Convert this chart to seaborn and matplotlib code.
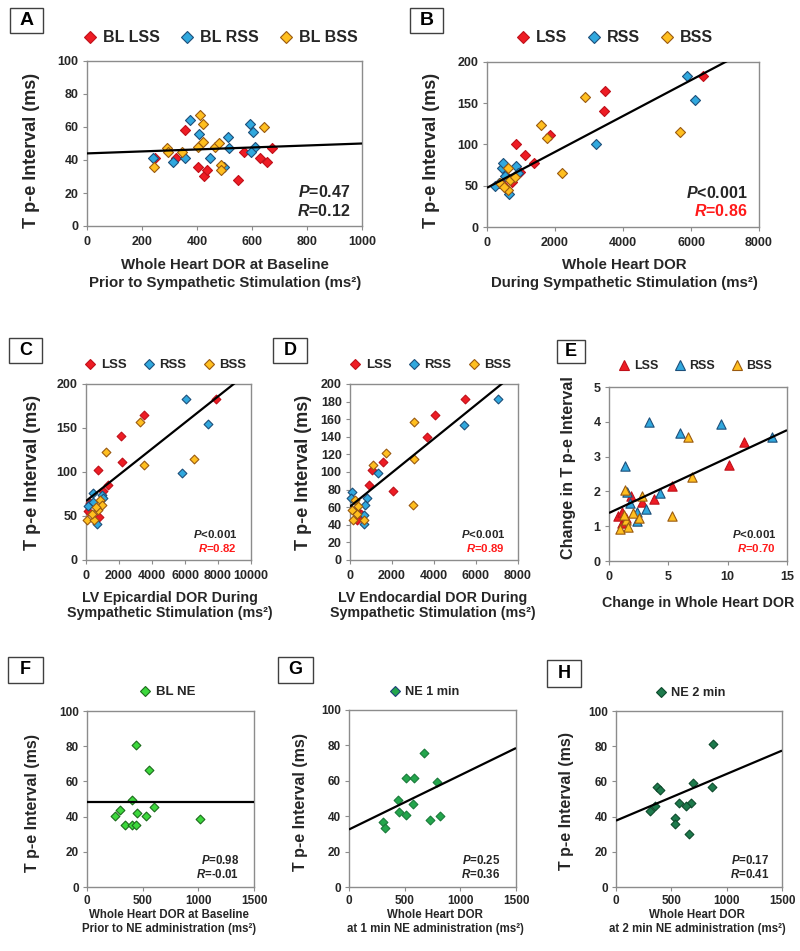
import numpy as np
import pandas as pd
import matplotlib
matplotlib.use("Agg")
import matplotlib.pyplot as plt
import seaborn as sns
from matplotlib.lines import Line2D
from matplotlib.patches import Rectangle

# ---------------- data ----------------
# Panel A: baseline
A_LSS_x = [246, 325, 358, 404, 424, 436, 549, 570, 630, 655, 673]
A_LSS_y = [41, 41, 58, 36, 30, 34, 28, 45, 41, 39, 47]
A_RSS_x = [239, 314, 358, 376, 406, 448, 497, 513, 518, 594, 602, 610, 598]
A_RSS_y = [41, 39, 41, 64, 56, 41, 36, 54, 47, 62, 57, 48, 45]
A_BSS_x = [242, 291, 294, 345, 404, 412, 421, 421, 467, 479, 488, 488, 642]
A_BSS_y = [36, 47, 45, 45, 48, 67, 62, 51, 48, 50, 37, 34, 60]
A_trend_x = [0, 1000]
A_trend_y = [44, 50]

# Panel B: whole heart DOR during stimulation
B_LSS_x = [6357, 3472, 3443, 1858, 851, 1125, 1389, 958, 733, 600, 450]
B_LSS_y = [183, 165, 141, 112, 101, 87, 78, 67, 55, 60, 52]
B_RSS_x = [5888, 6113, 3208, 342, 440, 470, 636, 860, 900, 245, 520]
B_RSS_y = [183, 154, 100, 53, 71, 78, 40, 74, 65, 50, 62]
B_BSS_x = [2885, 1584, 1760, 5672, 2200, 606, 391, 606, 685, 831, 500]
B_BSS_y = [158, 124, 108, 115, 65, 72, 53, 45, 57, 61, 48]
B_trend_x = [0, 7240]
B_trend_y = [47.5, 205]

# Panel C: LV epicardial DOR
C_LSS_x = [7900, 3532, 2111, 2172, 710, 1360, 1055, 790, 245, 150]
C_LSS_y = [183, 165, 141, 111, 102, 85, 78, 49, 65, 56]
C_RSS_x = [6049, 7389, 5826, 446, 406, 995, 650, 142, 1050]
C_RSS_y = [183, 154, 99, 66, 76, 74, 41, 61, 70]
C_BSS_x = [3289, 3492, 6537, 1218, 40, 508, 345, 853, 751, 954, 600]
C_BSS_y = [157, 108, 115, 123, 46, 46, 52, 68, 57, 63, 60]
C_trend_x = [0, 9220]
C_trend_y = [67, 204]

# Panel D: LV endocardial DOR
D_LSS_x = [5465, 4070, 3643, 1552, 1030, 903, 2059, 285, 348, 500]
D_LSS_y = [183, 165, 140, 111, 102, 85, 78, 57, 46, 52]
D_RSS_x = [7049, 5433, 1346, 79, 30, 824, 713, 681, 665, 260]
D_RSS_y = [183, 153, 99, 77, 70, 70, 63, 51, 41, 55]
D_BSS_x = [3041, 1695, 1109, 3041, 2978, 79, 158, 317, 396, 238, 665]
D_BSS_y = [157, 122, 108, 115, 63, 57, 46, 52, 61, 68, 46]
D_trend_x = [0, 7480]
D_trend_y = [60.7, 205]

# Panel E: change in whole heart DOR vs change in Tp-e
E_LSS_x = [11.4, 10.1, 5.28, 3.76, 2.82, 1.84, 1.07, 0.8, 1.13, 1.4]
E_LSS_y = [3.42, 2.77, 2.15, 1.77, 1.70, 1.86, 1.08, 1.3, 1.41, 1.25]
E_RSS_x = [3.33, 6.02, 9.46, 13.7, 1.36, 4.32, 3.16, 2.34, 2.4, 1.75, 1.55]
E_RSS_y = [3.98, 3.68, 3.95, 3.55, 2.72, 1.95, 1.49, 1.41, 1.15, 1.67, 1.99]
E_BSS_x = [6.64, 6.98, 5.28, 1.36, 2.82, 2.06, 2.54, 1.47, 1.64, 0.9, 1.27]
E_BSS_y = [3.57, 2.42, 1.29, 2.05, 1.88, 1.39, 1.24, 1.19, 0.98, 0.91, 1.32]
E_trend_x = [0, 15]
E_trend_y = [1.38, 3.76]

# Panels F-H: norepinephrine
F_x = [249, 300, 339, 405, 444, 450, 528, 600, 1013, 438, 555, 408]
F_y = [40.4, 43.8, 35.1, 35.1, 35.1, 42.3, 40.4, 45.5, 38.5, 80.4, 66.4, 49.4]
F_trend_x = [0, 1500]
F_trend_y = [48.3, 48.3]
G_x = [672, 512, 587, 789, 443, 572, 452, 512, 732, 819, 307, 325]
G_y = [75.5, 61.7, 61.7, 59.6, 49.4, 47, 42.5, 40.6, 38.1, 40, 36.8, 33.6]
G_trend_x = [0, 1500]
G_trend_y = [32.5, 78.5]
H_x = [880, 871, 695, 370, 395, 355, 310, 568, 674, 632, 531, 531, 659]
H_y = [81, 57, 59, 57, 55, 46, 43, 48, 48, 46, 39, 36, 30]
H_trend_x = [0, 1500]
H_trend_y = [37.7, 77.5]

# ---------------- style ----------------
sns.set_style("white")
plt.rcParams["font.family"] = ["Liberation Sans", "DejaVu Sans"]
plt.rcParams["font.weight"] = "bold"
plt.rcParams["mathtext.fontset"] = "custom"
plt.rcParams["mathtext.it"] = "Liberation Sans:italic:bold"
plt.rcParams["mathtext.rm"] = "Liberation Sans:bold"
plt.rcParams["mathtext.bf"] = "Liberation Sans:bold"

RED_F, RED_E = "#ee1c24", "#c0101a"
BLU_F, BLU_E = "#30a8de", "#1d4f7a"
ORA_F, ORA_E = "#ffbf1f", "#9a5a10"
GF_F, GF_E = "#3cd83c", "#1c6b1c"
GG_F, GG_E = "#23a64c", "#1a7a3a"
GH_F, GH_E = "#1d7a4c", "#0e4a2c"
TXT = "#262626"

W, H = 800, 951
fig = plt.figure(figsize=(8, 9.51), dpi=100)
fig.patch.set_facecolor("white")


def fx(px):
    return px / W


def fy(py):
    return 1 - py / H


def make_ax(l, r, t, b):
    return fig.add_axes([fx(l), fy(b), (r - l) / W, (b - t) / H])


def style_ax(ax, xlim, xticks, ylim, yticks, fs=9, xpad=4.5):
    ax.set_xlim(*xlim)
    ax.set_ylim(*ylim)
    ax.set_xticks(xticks)
    ax.set_yticks(yticks)
    for s in ax.spines.values():
        s.set_visible(True)
        s.set_color("#8c8c8c")
        s.set_linewidth(1.0)
    ax.tick_params(bottom=True, left=True, direction="out", length=3, width=0.8,
                   color="#8c8c8c", labelsize=fs, labelcolor=TXT)
    ax.tick_params(axis="x", pad=xpad)
    ax.tick_params(axis="y", pad=3)
    for lab in ax.get_xticklabels() + ax.get_yticklabels():
        lab.set_fontweight("bold")
    ax.set_xlabel("")
    ax.set_ylabel("")
    ax.grid(False)


def scatter_groups(ax, groups, marker, s):
    for name, xs, ys, face, edge in groups:
        df = pd.DataFrame({"x": xs, "y": ys})
        sns.scatterplot(data=df, x="x", y="y", ax=ax, marker=marker, s=s,
                        color=face, edgecolor=edge, linewidth=0.8,
                        clip_on=False, zorder=3, legend=False)


def trend(ax, xs, ys):
    ax.plot(xs, ys, color="black", lw=1.6, zorder=4, solid_capstyle="butt")


def legend(ax, groups, marker, ms, cx, cy, fs, colsp=1.2):
    handles = [Line2D([], [], ls="", marker=marker, ms=ms, mfc=f, mec=e, mew=0.8)
               for _, _, _, f, e in groups]
    names = [g[0] for g in groups]
    leg = ax.legend(handles, names, loc="center", bbox_to_anchor=(fx(cx), fy(cy)),
                    bbox_transform=fig.transFigure, ncol=len(groups), frameon=False,
                    fontsize=fs, handletextpad=0.3, columnspacing=colsp,
                    handlelength=1.0, borderpad=0, borderaxespad=0)
    for t in leg.get_texts():
        t.set_fontweight("bold")
        t.set_color(TXT)


def letter(l, t, r, b, s, fs=14):
    fig.add_artist(Rectangle((fx(l), fy(b)), (r - l) / W, (b - t) / H,
                             transform=fig.transFigure, fill=False,
                             ec="#404040", lw=1.0))
    fig.text(fx((l + r) / 2), fy((t + b) / 2), s, ha="center", va="center",
             fontsize=fs, fontweight="bold", color="black")


def ylab(x, y, s, fs):
    fig.text(fx(x), fy(y), s, rotation=90, ha="center", va="center",
             fontsize=fs, fontweight="bold", color=TXT)


def xlab(x, y, s, fs):
    fig.text(fx(x), fy(y), s, ha="center", va="center", fontsize=fs,
             fontweight="bold", color=TXT)


def stats(x, y1, y2, p, r, fs, rcol=TXT):
    fig.text(fx(x), fy(y1), p, ha="right", va="center", fontsize=fs,
             fontweight="bold", color=TXT)
    fig.text(fx(x), fy(y2), r, ha="right", va="center", fontsize=fs,
             fontweight="bold", color=rcol)


# ---------------- Panel A ----------------
axA = make_ax(87, 362, 61, 226)
gA = [("BL LSS", A_LSS_x, A_LSS_y, RED_F, RED_E),
      ("BL RSS", A_RSS_x, A_RSS_y, BLU_F, BLU_E),
      ("BL BSS", A_BSS_x, A_BSS_y, ORA_F, ORA_E)]
scatter_groups(axA, gA, "D", 26)
trend(axA, A_trend_x, A_trend_y)
style_ax(axA, (0, 1000), range(0, 1001, 200), (0, 100), range(0, 101, 20))
legend(axA, gA, "D", 6.0, 220, 38, 11.5)
letter(10, 8, 43, 33, "A")
ylab(32, 150, "T p-e Interval (ms)", 13)
xlab(225, 265, "Whole Heart DOR at Baseline", 10.8)
xlab(225, 283, "Prior to Sympathetic Stimulation (ms²)", 10.8)
stats(350, 192, 211, r"$P$=0.47", r"$R$=0.12", 11.5)

# ---------------- Panel B ----------------
axB = make_ax(487, 759, 62, 227)
gB = [("LSS", B_LSS_x, B_LSS_y, RED_F, RED_E),
      ("RSS", B_RSS_x, B_RSS_y, BLU_F, BLU_E),
      ("BSS", B_BSS_x, B_BSS_y, ORA_F, ORA_E)]
scatter_groups(axB, gB, "D", 26)
trend(axB, B_trend_x, B_trend_y)
style_ax(axB, (0, 8000), range(0, 8001, 2000), (0, 200), range(0, 201, 50))
legend(axB, gB, "D", 6.0, 614, 38, 11.5)
letter(410, 8, 443, 33, "B")
ylab(432, 150, "T p-e Interval (ms)", 13)
xlab(624, 265, "Whole Heart DOR", 10.8)
xlab(624, 283, "During Sympathetic Stimulation (ms²)", 10.8)
stats(748, 193, 211, r"$P$<0.001", r"$R$=0.86", 11.5, rcol="#ff1a1a")

# ---------------- Panel C ----------------
axC = make_ax(86, 251, 384, 560)
gC = [("LSS", C_LSS_x, C_LSS_y, RED_F, RED_E),
      ("RSS", C_RSS_x, C_RSS_y, BLU_F, BLU_E),
      ("BSS", C_BSS_x, C_BSS_y, ORA_F, ORA_E)]
scatter_groups(axC, gC, "D", 20)
trend(axC, C_trend_x, C_trend_y)
style_ax(axC, (0, 10000), range(0, 10001, 2000), (0, 200), range(0, 201, 50))
legend(axC, gC, "D", 5.2, 165, 365, 9.5)
letter(9, 338, 42, 363, "C", 13)
ylab(33, 472, "T p-e Interval (ms)", 13)
xlab(170, 598, "LV Epicardial DOR During", 10.3)
xlab(170, 613, "Sympathetic Stimulation (ms²)", 10.3)
stats(237, 534, 548, r"$P$<0.001", r"$R$=0.82", 8.2, rcol="#ff1a1a")

# ---------------- Panel D ----------------
axD = make_ax(350, 518, 384, 560)
gD = [("LSS", D_LSS_x, D_LSS_y, RED_F, RED_E),
      ("RSS", D_RSS_x, D_RSS_y, BLU_F, BLU_E),
      ("BSS", D_BSS_x, D_BSS_y, ORA_F, ORA_E)]
scatter_groups(axD, gD, "D", 20)
trend(axD, D_trend_x, D_trend_y)
style_ax(axD, (0, 8000), range(0, 8001, 2000), (0, 200), range(0, 201, 20))
legend(axD, gD, "D", 5.2, 430, 365, 9.5)
letter(273, 338, 307, 363, "D", 13)
ylab(303, 472, "T p-e Interval (ms)", 13)
xlab(433, 598, "LV Endocardial DOR During", 10.3)
xlab(433, 613, "Sympathetic Stimulation (ms²)", 10.3)
stats(505, 534, 548, r"$P$<0.001", r"$R$=0.89", 8.2, rcol="#ff1a1a")

# ---------------- Panel E ----------------
axE = make_ax(609, 787, 387, 561)
gE = [("LSS", E_LSS_x, E_LSS_y, RED_F, RED_E),
      ("RSS", E_RSS_x, E_RSS_y, BLU_F, BLU_E),
      ("BSS", E_BSS_x, E_BSS_y, ORA_F, ORA_E)]
scatter_groups(axE, gE, "^", 45)
trend(axE, E_trend_x, E_trend_y)
style_ax(axE, (0, 15), range(0, 16, 5), (0, 5), range(0, 6, 1))
legend(axE, gE, "^", 6.5, 695, 366, 9.0)
letter(557, 340, 585, 363, "E", 13)
ylab(569, 468, "Change in T p-e Interval", 11.6)
xlab(698, 603, "Change in Whole Heart DOR", 10.3)
stats(776, 534, 548, r"$P$<0.001", r"$R$=0.70", 8.2, rcol="#ff1a1a")

# ---------------- Panel F ----------------
axF = make_ax(87, 254, 711, 887)
gF = [("BL NE", F_x, F_y, GF_F, GF_E)]
scatter_groups(axF, gF, "D", 20)
trend(axF, F_trend_x, F_trend_y)
style_ax(axF, (0, 1500), range(0, 1501, 500), (0, 100), range(0, 101, 20), fs=8.5, xpad=3)
legend(axF, gF, "D", 5.2, 167, 692, 9.5)
letter(8, 657, 43, 683, "F", 13)
ylab(33, 803, "T p-e Interval (ms)", 11.5)
xlab(169, 915, "Whole Heart DOR at Baseline", 8.3)
xlab(169, 929, "Prior to NE administration (ms²)", 8.3)
stats(239, 860, 874, r"$P$=0.98", r"$R$=-0.01", 8.3)

# ---------------- Panel G ----------------
axG = make_ax(349, 516, 710, 887)
gG = [("NE 1 min", G_x, G_y, GG_F, GG_E)]
scatter_groups(axG, gG, "D", 20)
trend(axG, G_trend_x, G_trend_y)
style_ax(axG, (0, 1500), range(0, 1501, 500), (0, 100), range(0, 101, 20), fs=8.5, xpad=3)
legend(axG, [("NE 1 min", G_x, G_y, GG_F, "#1d3f7a")], "D", 5.2, 424, 692, 9.2)
letter(278, 657, 313, 683, "G", 13)
ylab(301, 802, "T p-e Interval (ms)", 11.5)
xlab(435, 915, "Whole Heart DOR", 8.3)
xlab(435, 929, "at 1 min NE administration (ms²)", 8.3)
stats(500, 861, 875, r"$P$=0.25", r"$R$=0.36", 8.3)

# ---------------- Panel H ----------------
axH = make_ax(616, 782, 711, 887)
gH = [("NE 2 min", H_x, H_y, GH_F, GH_E)]
scatter_groups(axH, gH, "D", 20)
trend(axH, H_trend_x, H_trend_y)
style_ax(axH, (0, 1500), range(0, 1501, 500), (0, 100), range(0, 101, 20), fs=8.5, xpad=3)
legend(axH, gH, "D", 5.2, 690, 693, 9.2)
letter(547, 660, 581, 687, "H", 13)
ylab(567, 801, "T p-e Interval (ms)", 11.5)
xlab(697, 915, "Whole Heart DOR", 8.3)
xlab(697, 929, "at 2 min NE administration (ms²)", 8.3)
stats(769, 860, 874, r"$P$=0.17", r"$R$=0.41", 8.3)

fig.savefig("out.png", dpi=100, facecolor="white")
